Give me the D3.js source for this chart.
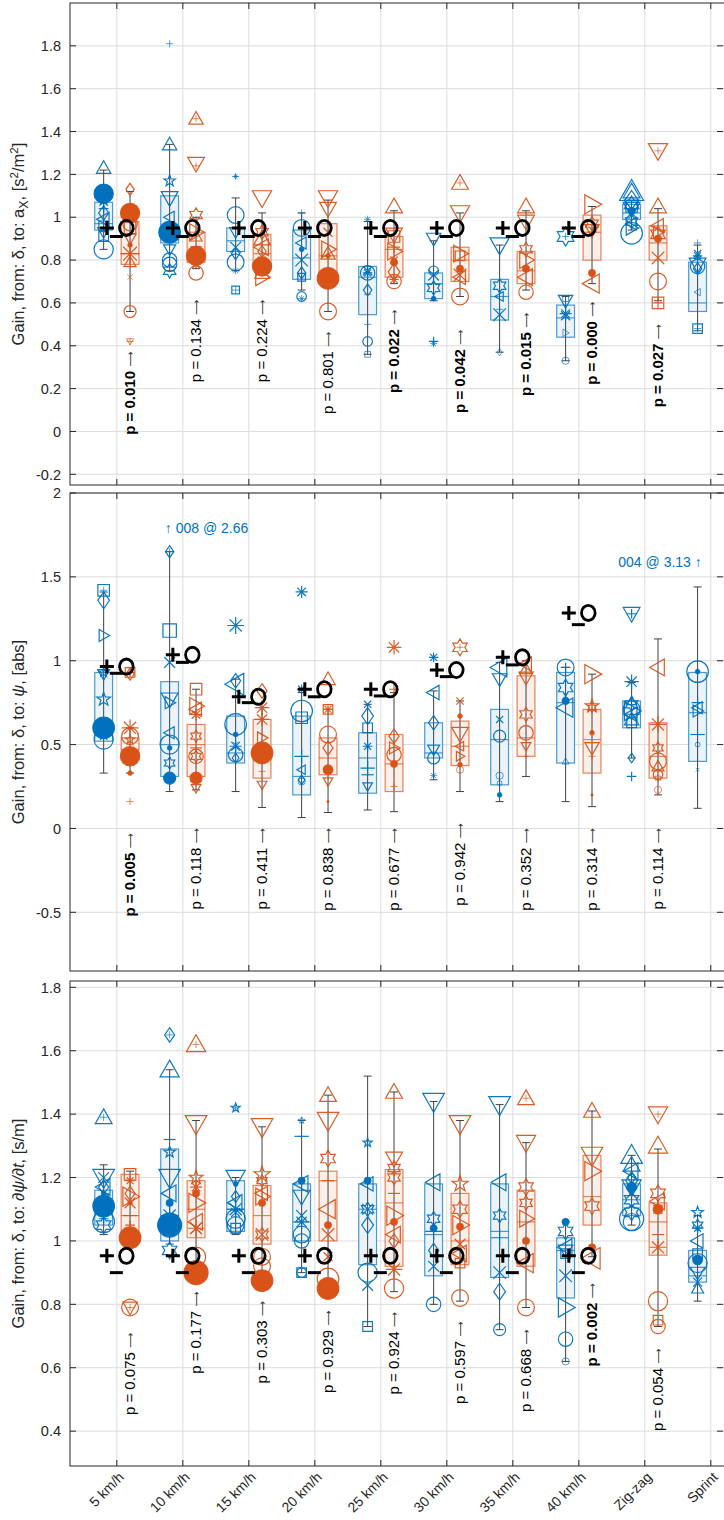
<!DOCTYPE html>
<html>
<head>
<meta charset="utf-8" />
<title></title>
<script src="https://cdn.jsdelivr.net/npm/d3@7"></script>
<style>
  body { margin: 0; background: #fff; }
  text { font-family: "Liberation Sans", Arial, Helvetica, sans-serif; fill: #262626; }
</style>
</head>
<body>
<svg id="chart" width="724" height="1520"></svg>
<script>
var cats = ["5 km/h", "10 km/h", "15 km/h", "20 km/h", "25 km/h", "30 km/h", "35 km/h", "40 km/h", "Zig-zag", "Sprint"];

// ---------- panel 1 : gain delta -> a_X ----------
// box: [low whisker, q1, median, q3, high whisker]
var accelTicks = [-0.2, 0, 0.2, 0.4, 0.6, 0.8, 1, 1.2, 1.4, 1.6, 1.8];
var accelBlueBox = [
  [0.85, 0.94, 0.97, 1.07, 1.22], [0.75, 0.88, 0.95, 1.10, 1.34], [0.75, 0.84, 0.89, 0.95, 1.09],
  [0.66, 0.71, 0.81, 0.94, 1.02], [0.36, 0.545, 0.72, 0.77, 0.98], [0.61, 0.62, 0.69, 0.74, 0.89],
  [0.37, 0.52, 0.63, 0.71, 0.87], [0.33, 0.44, 0.53, 0.59, 0.63], [0.94, 0.99, 1.02, 1.06, 1.08],
  [0.47, 0.56, 0.60, 0.79, 0.87]];
var accelOrangeBox = [
  [0.56, 0.78, 0.83, 0.98, 1.12], [0.76, 0.79, 0.84, 0.93, 1.00], [0.76, 0.77, 0.83, 0.92, 1.02],
  [0.56, 0.70, 0.82, 0.97, 1.08], [0.69, 0.72, 0.85, 0.91, 1.03], [0.63, 0.70, 0.80, 0.86, 1.02],
  [0.66, 0.69, 0.75, 0.84, 1.03], [0.69, 0.80, 0.93, 1.01, 1.05], [0.61, 0.80, 0.88, 0.96, 1.04], null];
// points: [value, marker, weight]
var accelBluePts = [
  [[1.23, "^", 6], [1.11, "O", 8], [1.08, "p", 5], [1.02, "d", 6], [0.99, "<", 6], [0.96, "s", 5], [0.93, "v", 5], [0.91, "s", 5], [0.85, "o", 8], [1.04, "+", 4]],
  [[1.81, "+", 3], [1.34, "^", 6], [1.17, "p", 5], [1.09, "v", 7], [1.0, "<", 5], [0.93, "O", 9], [0.85, "v", 5], [0.8, "o", 6], [0.78, "o", 6], [0.75, "h", 6], [0.95, "*", 3]],
  [[1.19, "+", 3], [1.19, "*", 2], [1.01, "o", 7], [0.93, "v", 5], [0.86, "x", 6], [0.83, "d", 5], [0.79, "o", 7], [0.75, "*", 3], [0.66, "s", 4], [0.66, "+", 3]],
  [[0.95, "o", 7], [1.02, "+", 3], [0.85, ".", 2], [0.8, "x", 7], [0.74, "d", 5], [0.72, "s", 4], [0.63, "o", 4], [0.62, "*", 3], [0.88, "<", 5]],
  [[0.99, "*", 3], [0.75, "x", 5], [0.74, "o", 6], [0.74, "*", 4], [0.66, "d", 5], [0.64, "_", 3], [0.5, "+", 3], [0.42, "o", 4], [0.36, "s", 3]],
  [[0.9, "v", 6], [0.75, "o", 4], [0.73, "x", 6], [0.67, "h", 6], [0.62, ".", 2], [0.42, "+", 4], [0.41, "*", 3]],
  [[0.87, "v", 8], [0.68, "h", 6], [0.63, "<", 4], [0.545, "x", 7], [0.57, "+", 3], [0.37, "d", 3]],
  [[0.91, "h", 8], [0.91, "+", 3], [0.61, "v", 6], [0.55, "*", 5], [0.54, "x", 5], [0.46, ">", 3], [0.33, "o", 3], [0.62, "s", 3]],
  [[1.12, "^", 10], [1.12, "^", 7], [1.08, "d", 8], [1.06, "h", 7], [1.04, "v", 7], [1.05, "s", 6], [1.02, "x", 6], [0.98, "h", 6], [1.03, ".", 3], [0.925, "o", 9], [0.95, ">", 6], [0.97, "<", 5]],
  [[0.88, "+", 3], [0.82, "*", 4], [0.83, "x", 4], [0.78, "v", 7], [0.77, "o", 6], [0.76, "d", 5], [0.65, "<", 3], [0.48, "s", 5], [0.48, "+", 3]]];
var accelOrangePts = [
  [[1.13, "d", 5], [1.02, "O", 8], [0.97, "o", 6], [0.95, "s", 6], [0.9, "v", 5], [0.83, "*", 8], [0.79, "^", 5], [0.72, "x", 3], [0.56, "o", 5], [0.42, "v", 3], [0.42, "+", 3], [0.87, ".", 2]],
  [[1.46, "^", 6], [1.46, "+", 3], [1.25, "v", 7], [1.24, "+", 3], [1.01, "h", 6], [0.93, ">", 7], [0.91, "^", 5], [0.82, "O", 8], [0.84, "s", 5], [0.74, "o", 6], [0.78, "x", 4]],
  [[1.09, "v", 8], [0.93, "h", 6], [0.9, "^", 7], [0.86, "<", 7], [0.84, "d", 5], [0.77, "O", 8], [0.72, ">", 7], [0.74, "^", 6], [0.8, "x", 4]],
  [[1.09, "v", 8], [1.04, "v", 7], [0.85, ">", 7], [0.83, "^", 6], [0.82, ".", 2], [0.715, "O", 9], [0.56, "o", 7], [0.93, "x", 5]],
  [[1.05, "^", 7], [0.92, "v", 7], [0.91, "s", 6], [0.84, ">", 7], [0.79, ".", 3], [0.86, "+", 5], [0.745, "d", 7], [0.7, "o", 6], [0.71, "*", 4], [0.8, "x", 4]],
  [[1.16, "^", 7], [1.16, "+", 3], [1.02, "v", 8], [0.83, ">", 7], [0.82, "s", 5], [0.76, ".", 3], [0.73, "x", 7], [0.72, "<", 6], [0.63, "o", 7]],
  [[1.05, "^", 7], [0.98, "v", 7], [0.85, "h", 6], [0.8, ">", 7], [0.76, ".", 3], [0.72, "<", 7], [0.65, "o", 6]],
  [[1.06, ">", 8], [0.97, "h", 6], [0.94, "v", 6], [0.74, ".", 3], [0.69, "<", 8], [0.93, "+", 4]],
  [[1.31, "v", 8], [1.31, "+", 3], [1.05, "^", 7], [0.96, "<", 6], [0.92, "h", 7], [0.9, ".", 3], [0.93, ">", 5], [0.81, "x", 7], [0.7, "o", 7], [0.6, "s", 6], [0.6, "+", 4]],
  []];
var accelP = [0.010, 0.134, 0.224, 0.801, 0.022, 0.042, 0.015, 0.000, 0.027];
var accelPAt = [0.372, 0.614, 0.614, 0.465, 0.567, 0.474, 0.553, 0.605, 0.5];
var accelRef = [0.95, 0.95, 0.95, 0.95, 0.95, 0.95, 0.95, 0.95];
var accelRefLow = [0.91, 0.91, 0.91, 0.91, 0.91, 0.91, 0.91, 0.91];

// ---------- panel 2 : gain delta -> psi ----------
var yawTicks = [-0.5, 0, 0.5, 1, 1.5, 2];
var yawBlueBox = [
  [0.33, 0.52, 0.60, 0.93, 1.41], [0.22, 0.31, 0.50, 0.875, 1.65], [0.22, 0.39, 0.45, 0.67, 0.89],
  [0.065, 0.20, 0.31, 0.67, 0.81], [0.11, 0.21, 0.42, 0.57, 0.74], [0.29, 0.42, 0.45, 0.63, 0.82],
  [0.16, 0.26, 0.53, 0.71, 0.99], [0.16, 0.39, 0.75, 0.93, 0.96], [0.42, 0.60, 0.68, 0.76, 0.87],
  [0.12, 0.40, 0.69, 0.93, 1.44]];
var yawOrangeBox = [
  [0.33, 0.42, 0.47, 0.54, 0.60], [0.23, 0.31, 0.50, 0.62, 0.83], [0.125, 0.30, 0.45, 0.65, 0.72],
  [0.095, 0.32, 0.42, 0.54, 0.71], [0.10, 0.22, 0.385, 0.56, 0.81], [0.22, 0.375, 0.49, 0.64, 0.76],
  [0.31, 0.43, 0.54, 0.91, 1.00], [0.13, 0.33, 0.53, 0.71, 0.92], [0.20, 0.30, 0.43, 0.63, 1.13], null];
var yawBluePts = [
  [[1.42, "s", 6], [1.42, "+", 3], [1.36, "d", 7], [1.15, ">", 5], [0.92, "v", 5], [0.93, "p", 4], [0.77, "p", 6], [0.6, "O", 9], [0.53, "o", 8], [0.55, "x", 4]],
  [[1.65, "d", 5], [1.65, "+", 3], [1.18, "s", 7], [0.99, "x", 6], [0.77, "v", 7], [0.75, ">", 5], [0.57, "<", 5], [0.5, "o", 8], [0.48, ".", 2], [0.39, "h", 5], [0.3, "O", 5]],
  [[1.21, "*", 7], [0.88, "d", 6], [0.86, "<", 9], [0.62, "o", 9], [0.56, ".", 2], [0.49, "*", 5], [0.44, "o", 6], [0.5, "x", 3], [0.42, "d", 4]],
  [[1.41, "*", 5], [0.83, "*", 4], [0.7, "o", 9], [0.66, "s", 6], [0.43, "+", 6], [0.35, "<", 4], [0.29, "d", 4], [0.28, "o", 3]],
  [[0.74, "x", 4], [0.67, "d", 7], [0.6, "s", 5], [0.49, "*", 4], [0.36, "+", 6], [0.32, "_", 5], [0.25, "v", 4]],
  [[1.02, "*", 4], [0.81, "<", 6], [0.63, "d", 6], [0.47, "v", 5], [0.42, "o", 5], [0.315, "*", 3]],
  [[0.96, "<", 8], [0.89, "v", 6], [0.65, "x", 4], [0.55, "o", 5], [0.315, "o", 3], [0.27, "o", 2], [0.2, ".", 2]],
  [[0.96, "o", 7], [0.96, "+", 4], [0.84, "h", 7], [0.79, "x", 3], [0.76, ".", 3], [0.72, "<", 8], [0.4, "^", 3]],
  [[1.28, "v", 7], [1.28, "+", 4], [0.875, "*", 6], [0.76, "^", 4], [0.74, "h", 6], [0.71, "o", 7], [0.7, ">", 8], [0.68, "<", 6], [0.65, "^", 6], [0.63, "s", 5], [0.42, "d", 4], [0.31, "+", 4]],
  [[0.935, "o", 9], [0.935, ".", 2], [0.75, "+", 5], [0.72, "<", 5], [0.7, ">", 5], [0.56, "_", 6], [0.5, "o", 2], [0.35, "x", 2]]];
var yawOrangePts = [
  [[0.93, "s", 5], [0.92, "d", 5], [0.93, "+", 4], [0.6, "*", 7], [0.55, "o", 7], [0.53, "p", 4], [0.43, "O", 8], [0.33, ".", 2], [0.16, "+", 3]],
  [[0.83, "s", 6], [0.73, ">", 7], [0.71, "<", 6], [0.68, "*", 5], [0.55, "h", 5], [0.48, "_", 5], [0.43, "o", 6], [0.43, "h", 5], [0.3, "O", 5], [0.24, "v", 4]],
  [[0.82, "d", 6], [0.72, "*", 6], [0.65, "*", 6], [0.54, ">", 5], [0.45, "O", 9], [0.34, "_", 3], [0.26, "v", 4]],
  [[0.89, "^", 6], [0.71, "s", 5], [0.71, "*", 4], [0.56, "o", 7], [0.48, "d", 6], [0.35, "O", 4], [0.28, "v", 4], [0.16, ".", 1]],
  [[1.08, "*", 6], [0.83, "+", 4], [0.55, "d", 6], [0.48, ">", 5], [0.44, "o", 6], [0.385, "O", 3], [0.25, "+", 3]],
  [[1.08, "h", 7], [1.08, "+", 3], [0.76, "x", 4], [0.67, ".", 2], [0.565, "v", 7], [0.49, "<", 4], [0.43, ">", 4], [0.35, "o", 3], [0.38, ".", 2]],
  [[0.98, "<", 6], [0.9, "v", 6], [0.95, "^", 5], [0.68, "h", 6], [0.57, "o", 6], [0.49, "v", 4], [0.43, "+", 2]],
  [[0.92, ">", 8], [0.73, "p", 6], [0.72, "h", 4], [0.57, ".", 2], [0.48, "v", 6], [0.43, "+", 3], [0.2, ".", 1]],
  [[0.96, "<", 7], [0.62, "*", 7], [0.48, "h", 5], [0.4, "o", 7], [0.37, "^", 5], [0.32, "o", 4], [0.3, "h", 3], [0.23, "o", 3]],
  []];
var yawP = [0.005, 0.118, 0.411, 0.838, 0.677, 0.942, 0.352, 0.314, 0.114];
var yawPAt = [-0.03, 0.0, 0.0, 0.0, 0.0, 0.03, 0.0, 0.0, 0.0];
var yawRef = [0.965, 1.035, 0.785, 0.83, 0.83, 0.945, 1.02, 1.285];
var yawRefLow = [0.925, 0.99, 0.75, 0.785, 0.79, 0.905, 0.975, 1.215];
var yawOffscale = [
  { cat: 2, text: "\u2191 008 @ 2.66" },
  { cat: 10, text: "004 @ 3.13 \u2191" }];

// ---------- panel 3 : gain delta -> dpsi/dt ----------
var rateTicks = [0.4, 0.6, 0.8, 1, 1.2, 1.4, 1.6, 1.8];
var rateBlueBox = [
  [1.02, 1.05, 1.10, 1.16, 1.24], [0.99, 1.00, 1.08, 1.29, 1.54], [1.02, 1.03, 1.10, 1.19, 1.20],
  [0.90, 1.00, 1.06, 1.18, 1.38], [0.73, 0.925, 1.10, 1.18, 1.52], [0.80, 0.89, 1.02, 1.18, 1.44],
  [0.72, 0.885, 1.03, 1.18, 1.43], [0.62, 0.82, 0.97, 1.01, 1.06], [1.05, 1.08, 1.13, 1.18, 1.27],
  [0.81, 0.87, 0.89, 0.97, 1.08]];
var rateOrangeBox = [
  [1.005, 1.03, 1.08, 1.21, 1.22], [0.90, 1.01, 1.10, 1.19, 1.38], [0.875, 0.99, 1.08, 1.175, 1.36],
  [0.85, 1.00, 1.19, 1.22, 1.46], [0.84, 0.92, 1.12, 1.225, 1.47], [0.81, 0.925, 1.00, 1.15, 1.38],
  [0.79, 0.92, 1.06, 1.16, 1.31], [0.95, 1.05, 1.14, 1.27, 1.41], [0.73, 0.955, 1.06, 1.12, 1.29], null];
var rateBluePts = [
  [[1.39, "^", 7], [1.39, "+", 3], [1.2, "v", 9], [1.2, "x", 6], [1.17, "<", 7], [1.17, "d", 6], [1.15, ".", 2], [1.13, "<", 5], [1.11, "O", 9], [1.06, "o", 9], [1.05, "h", 7], [1.07, "+", 4]],
  [[1.65, "d", 6], [1.65, "+", 3], [1.54, "^", 8], [1.28, "p", 5], [1.32, "_", 5], [1.2, "v", 9], [1.15, "<", 7], [1.12, ".", 3], [1.08, "*", 7], [1.07, "x", 5], [1.05, "O", 10], [0.97, "h", 7]],
  [[1.42, "p", 4], [1.42, "+", 3], [1.2, "v", 8], [1.18, ".", 2], [1.12, "<", 7], [1.14, "d", 5], [1.1, "*", 7], [1.09, "x", 5], [1.07, "o", 8], [1.05, "o", 7], [1.04, "s", 5]],
  [[1.38, "p", 3], [1.38, "+", 3], [1.33, "_", 6], [1.19, ".", 3], [1.18, "<", 7], [1.14, "v", 7], [1.08, "x", 6], [1.06, "*", 6], [1.02, "o", 7], [1.0, "o", 6], [0.9, "s", 5], [0.9, "o", 4]],
  [[1.31, "p", 4], [1.19, ".", 3], [1.18, "<", 6], [1.1, "x", 6], [1.1, "h", 6], [1.05, "d", 7], [0.9, "o", 8], [0.86, "x", 6], [0.73, "s", 5]],
  [[1.44, "v", 9], [1.185, "<", 7], [1.07, "h", 6], [1.04, ".", 3], [1.03, "+", 7], [0.97, "d", 6], [0.92, "x", 6], [0.8, "o", 6]],
  [[1.43, "v", 9], [1.185, "<", 7], [1.08, "h", 6], [1.01, "+", 7], [0.9, "x", 7], [0.84, "d", 7], [0.72, "o", 5]],
  [[1.06, ".", 3], [1.03, "h", 7], [0.98, "<", 7], [0.97, "v", 6], [0.96, "s", 5], [0.89, "x", 7], [0.79, ">", 8], [0.69, "o", 6], [0.62, "o", 3]],
  [[1.27, "^", 9], [1.24, "^", 7], [1.22, "<", 7], [1.19, "d", 7], [1.17, ".", 4], [1.17, "v", 8], [1.13, "h", 7], [1.15, "x", 6], [1.09, "h", 7], [1.07, "o", 10], [1.06, "o", 7], [1.2, "d", 5]],
  [[1.09, "p", 5], [1.05, "h", 5], [1.04, "*", 4], [1.0, "<", 6], [0.96, "s", 5], [0.93, "o", 8], [0.94, ".", 4], [0.9, "v", 6], [0.87, "x", 5], [0.85, "^", 5]]];
var rateOrangePts = [
  [[1.21, "s", 6], [1.19, "*", 4], [1.15, "d", 6], [1.14, ">", 8], [1.12, "x", 6], [1.12, ".", 2], [1.08, "_", 6], [1.05, "+", 4], [1.01, "O", 9], [0.79, "v", 6], [0.79, "o", 7], [0.79, "+", 3]],
  [[1.62, "^", 8], [1.62, "+", 3], [1.37, "v", 9], [1.2, "p", 6], [1.17, "*", 5], [1.15, ".", 3], [1.12, ">", 8], [1.06, "<", 7], [1.04, "*", 7], [1.04, "x", 6], [0.95, "o", 8], [0.9, "O", 10]],
  [[1.36, "v", 9], [1.21, "p", 7], [1.19, "h", 5], [1.14, ">", 7], [1.15, "<", 6], [1.12, ".", 3], [1.02, "x", 7], [1.02, "h", 6], [0.95, "o", 7], [0.92, "o", 7], [0.875, "O", 9]],
  [[1.46, "^", 7], [1.38, "v", 9], [1.26, "h", 7], [1.19, "_", 5], [1.1, "<", 8], [1.05, ".", 3], [1.02, "x", 7], [0.95, "x", 5], [0.88, "o", 9], [0.85, "O", 9]],
  [[1.47, "^", 7], [1.26, "v", 7], [1.23, "h", 6], [1.2, "h", 6], [1.15, "_", 5], [1.08, ">", 8], [1.06, ".", 3], [1.02, "<", 7], [1.0, "d", 6], [0.91, "*", 7], [0.85, "o", 8]],
  [[1.37, "v", 9], [1.18, "p", 7], [1.1, "h", 7], [1.05, ">", 8], [1.045, ".", 3], [0.99, "x", 6], [0.96, "<", 7], [0.93, "s", 5], [0.82, "o", 7]],
  [[1.45, "^", 7], [1.45, "+", 3], [1.31, "v", 8], [1.17, "h", 7], [1.12, "h", 6], [1.07, ">", 7], [1.0, ".", 3], [0.93, "<", 8], [0.79, "o", 7]],
  [[1.41, "^", 7], [1.27, "v", 9], [1.22, ">", 8], [1.11, "h", 7], [0.98, ".", 3], [0.945, "<", 9]],
  [[1.4, "v", 8], [1.4, "+", 3], [1.3, "^", 8], [1.15, "h", 7], [1.125, "<", 7], [1.1, "x", 5], [1.1, ".", 4], [0.98, "*", 7], [1.02, "_", 5], [0.81, "o", 8], [0.75, "s", 5], [0.73, "o", 6]],
  []];
var rateP = [0.075, 0.177, 0.303, 0.929, 0.924, 0.597, 0.668, 0.002, 0.054];
var ratePAt = [0.71, 0.84, 0.81, 0.78, 0.775, 0.745, 0.72, 0.866, 0.66];
var rateRef = [0.953, 0.953, 0.953, 0.953, 0.953, 0.953, 0.953, 0.953];
var rateRefLow = [0.9, 0.9, 0.9, 0.9, 0.9, 0.9, 0.9, 0.9];

// ---------- drawing ----------
var svg = d3.select("#chart");
var W = 724;
var BLUE = "#0072BD", ORANGE = "#D95319";
var x = d3.scaleLinear().domain([0.29, 10.2]).range([70, 724]);
var rScale = d3.scaleLinear().domain([0, 10]).range([0, 12]);
var groupOffset = 0.2, boxHalf = 0.135;

function markerPath(m, r) {
  var i, a, pts = [];
  switch (m) {
    case "o": case "O": case ".":
      return "M" + (-r) + ",0a" + r + "," + r + " 0 1,0 " + (2 * r) + ",0a" + r + "," + r + " 0 1,0 " + (-2 * r) + ",0Z";
    case "s": var s = r * 0.8; return "M" + (-s) + "," + (-s) + "H" + s + "V" + s + "H" + (-s) + "Z";
    case "d": return "M0," + (-r) + "L" + (r * 0.7) + ",0L0," + r + "L" + (-r * 0.7) + ",0Z";
    case "^": return "M0," + (-r) + "L" + r + "," + (r * 0.75) + "L" + (-r) + "," + (r * 0.75) + "Z";
    case "v": return "M0," + r + "L" + r + "," + (-r * 0.75) + "L" + (-r) + "," + (-r * 0.75) + "Z";
    case "<": return "M" + (-r) + ",0L" + (r * 0.75) + "," + (-r) + "L" + (r * 0.75) + "," + r + "Z";
    case ">": return "M" + r + ",0L" + (-r * 0.75) + "," + (-r) + "L" + (-r * 0.75) + "," + r + "Z";
    case "p":
      for (i = 0; i < 10; i++) {
        a = -Math.PI / 2 + i * Math.PI / 5;
        var rr = i % 2 ? r * 0.4 : r;
        pts.push([rr * Math.cos(a), rr * Math.sin(a)]);
      }
      return "M" + pts.join("L") + "Z";
    case "h":
      for (i = 0; i < 12; i++) {
        a = -Math.PI / 2 + i * Math.PI / 6;
        var rh = i % 2 ? r * 0.58 : r;
        pts.push([rh * Math.cos(a), rh * Math.sin(a)]);
      }
      return "M" + pts.join("L") + "Z";
    case "+": return "M" + (-r) + ",0H" + r + "M0," + (-r) + "V" + r;
    case "x": var k = r * 0.75; return "M" + (-k) + "," + (-k) + "L" + k + "," + k + "M" + (-k) + "," + k + "L" + k + "," + (-k);
    case "*": var q = r * 0.72; return "M" + (-r) + ",0H" + r + "M0," + (-r) + "V" + r + "M" + (-q) + "," + (-q) + "L" + q + "," + q + "M" + (-q) + "," + q + "L" + q + "," + (-q);
    case "_": return "M" + (-r) + ",0H" + r;
  }
}

var panels = [
  { top: 3, bottom: 485, domain: [-0.25, 2.0], ticks: accelTicks, blueBox: accelBlueBox, orangeBox: accelOrangeBox,
    bluePts: accelBluePts, orangePts: accelOrangePts, p: accelP, pAt: accelPAt, ref: accelRef, refLow: accelRefLow, label: "accel" },
  { top: 493, bottom: 971, domain: [-0.85, 2.0], ticks: yawTicks, blueBox: yawBlueBox, orangeBox: yawOrangeBox,
    bluePts: yawBluePts, orangePts: yawOrangePts, p: yawP, pAt: yawPAt, ref: yawRef, refLow: yawRefLow, label: "yaw" },
  { top: 981, bottom: 1466, domain: [0.29, 1.82], ticks: rateTicks, blueBox: rateBlueBox, orangeBox: rateOrangeBox,
    bluePts: rateBluePts, orangePts: rateOrangePts, p: rateP, pAt: ratePAt, ref: rateRef, refLow: rateRefLow, label: "rate" }
];

panels.forEach(function (P) {
  var y = d3.scaleLinear().domain(P.domain).range([P.bottom, P.top]);
  var g = svg.append("g");

  // grid
  g.selectAll(".gy").data(P.ticks).enter().append("line")
    .attr("x1", 70).attr("x2", W).attr("y1", d => y(d)).attr("y2", d => y(d))
    .attr("stroke", "#dcdcdc").attr("stroke-width", 1);
  g.selectAll(".gx").data(cats).enter().append("line")
    .attr("x1", (d, i) => x(i + 1)).attr("x2", (d, i) => x(i + 1))
    .attr("y1", P.top).attr("y2", P.bottom)
    .attr("stroke", "#dcdcdc").attr("stroke-width", 1);

  function drawGroup(boxes, pts, color, fill, off) {
    boxes.forEach(function (b, i) {
      if (!b) return;
      var cx = x(i + 1 + off), hw = x(boxHalf) - x(0);
      g.append("rect").attr("x", cx - hw).attr("width", 2 * hw)
        .attr("y", y(b[3])).attr("height", y(b[1]) - y(b[3]))
        .attr("fill", fill);
      g.append("line").attr("x1", cx).attr("x2", cx).attr("y1", y(b[0])).attr("y2", y(b[4]))
        .attr("stroke", "#404040").attr("stroke-width", 1);
      [b[0], b[4]].forEach(function (v) {
        g.append("line").attr("x1", cx - 4).attr("x2", cx + 4).attr("y1", y(v)).attr("y2", y(v))
          .attr("stroke", "#404040").attr("stroke-width", 1);
      });
      g.append("rect").attr("x", cx - hw).attr("width", 2 * hw)
        .attr("y", y(b[3])).attr("height", y(b[1]) - y(b[3]))
        .attr("fill", "none").attr("stroke", color).attr("stroke-opacity", 0.7).attr("stroke-width", 1.2);
      g.append("line").attr("x1", cx - hw).attr("x2", cx + hw).attr("y1", y(b[2])).attr("y2", y(b[2]))
        .attr("stroke", color).attr("stroke-opacity", 0.7).attr("stroke-width", 1.2);
    });
    pts.forEach(function (list, i) {
      var cx = x(i + 1 + off);
      g.selectAll(null).data(list).enter().append("path")
        .attr("transform", d => "translate(" + cx + "," + y(d[0]) + ")")
        .attr("d", d => markerPath(d[1], rScale(d[2])))
        .attr("fill", d => (d[1] === "O" || d[1] === ".") ? color : "none")
        .attr("stroke", color)
        .attr("stroke-width", d => d[2] < 4 ? 0.9 : 1.2)
        .attr("stroke-opacity", d => d[2] < 4 ? 0.75 : 0.95);
    });
  }
  drawGroup(P.blueBox, P.bluePts, BLUE, "#ebf3fa", -groupOffset);
  drawGroup(P.orangeBox, P.orangePts, ORANGE, "#fcefe9", groupOffset);

  // reference glyphs "+O" and dash
  P.ref.forEach(function (v, i) {
    var cx = x(i + 1), cy = y(v);
    g.append("path").attr("d", "M" + (cx - 17) + "," + cy + "h14M" + (cx - 10) + "," + (cy - 7) + "v14")
      .attr("stroke", "#000").attr("stroke-width", 3).attr("fill", "none");
    g.append("ellipse").attr("cx", cx + 9.5).attr("cy", cy).attr("rx", 6.8).attr("ry", 7.6)
      .attr("stroke", "#000").attr("stroke-width", 2.8).attr("fill", "none");
    var ly = y(P.refLow[i]);
    g.append("line").attr("x1", cx - 7).attr("x2", cx + 6).attr("y1", ly).attr("y2", ly)
      .attr("stroke", "#000").attr("stroke-width", 3);
  });

  // p-values
  P.p.forEach(function (p, i) {
    var px = x(i + 1 + groupOffset) + 5, py = y(P.pAt[i]);
    var t = g.append("text")
      .attr("transform", "translate(" + px + "," + py + ") rotate(-90)")
      .attr("text-anchor", "end")
      .attr("font-size", 15)
      .attr("font-weight", p < 0.05 ? "bold" : "normal")
      .style("fill", "#000");
    t.append("tspan").text("p = " + p.toFixed(3) + " ");
    t.append("tspan").attr("font-weight", "normal").attr("font-size", 10.5).attr("dy", -1.5)
      .style("font-family", "'DejaVu Sans'").style("fill", "#333").text("\u27F6");
  });

  // axes frame
  g.append("rect").attr("x", 70).attr("y", P.top).attr("width", W - 70 + 1).attr("height", P.bottom - P.top)
    .attr("fill", "none").attr("stroke", "#262626").attr("stroke-width", 1);
  P.ticks.forEach(function (t) {
    g.append("line").attr("x1", 70).attr("x2", 76).attr("y1", y(t)).attr("y2", y(t)).attr("stroke", "#262626");
    g.append("line").attr("x1", W - 7).attr("x2", W - 1).attr("y1", y(t)).attr("y2", y(t)).attr("stroke", "#262626");
    g.append("text").attr("x", 61).attr("y", y(t)).attr("dy", "0.36em")
      .attr("text-anchor", "end").attr("font-size", 14.5).text(t);
  });
  cats.forEach(function (c, i) {
    g.append("line").attr("x1", x(i + 1)).attr("x2", x(i + 1)).attr("y1", P.top).attr("y2", P.top + 6).attr("stroke", "#262626");
    g.append("line").attr("x1", x(i + 1)).attr("x2", x(i + 1)).attr("y1", P.bottom).attr("y2", P.bottom - 6).attr("stroke", "#262626");
  });

  // y label
  var lab = g.append("text")
    .attr("transform", "translate(24," + ((P.top + P.bottom) / 2) + ") rotate(-90)")
    .attr("text-anchor", "middle").attr("font-size", 16.5);
  if (P.label === "accel") {
    lab.append("tspan").text("Gain, from: \u03b4, to: a");
    lab.append("tspan").attr("font-size", 12.5).attr("dy", 4).text("X");
    lab.append("tspan").attr("dy", -4).text(", [s");
    lab.append("tspan").attr("font-size", 11.5).attr("dy", -6).text("2");
    lab.append("tspan").attr("dy", 6).text("/m");
    lab.append("tspan").attr("font-size", 11.5).attr("dy", -6).text("2");
    lab.append("tspan").attr("dy", 6).text("]");
  } else if (P.label === "yaw") {
    lab.append("tspan").text("Gain, from: \u03b4, to: ");
    lab.append("tspan").attr("font-style", "italic").text("\u03c8");
    lab.append("tspan").text(", [abs]");
  } else {
    lab.append("tspan").text("Gain, from: \u03b4, to: ");
    lab.append("tspan").attr("font-style", "italic").text("\u2202\u03c8/\u2202t");
    lab.append("tspan").text(", [s/m]");
  }

  if (P.label === "yaw") {
    svg.append("text").attr("x", x(2) - 18).attr("y", y(1.79)).attr("dy", "0.35em")
      .attr("font-size", 14).style("fill", BLUE).text(yawOffscale[0].text);
    svg.append("text").attr("x", x(10) - 9).attr("y", y(1.59)).attr("dy", "0.35em")
      .attr("text-anchor", "end").attr("font-size", 14).style("fill", BLUE).text(yawOffscale[1].text);
  }
});

// x tick labels under the last panel
cats.forEach(function (c, i) {
  svg.append("text")
    .attr("transform", "translate(" + (x(i + 1) + 8) + ",1478) rotate(-45)")
    .attr("text-anchor", "end").attr("font-size", 14).text(c);
});
</script>
</body>
</html>
